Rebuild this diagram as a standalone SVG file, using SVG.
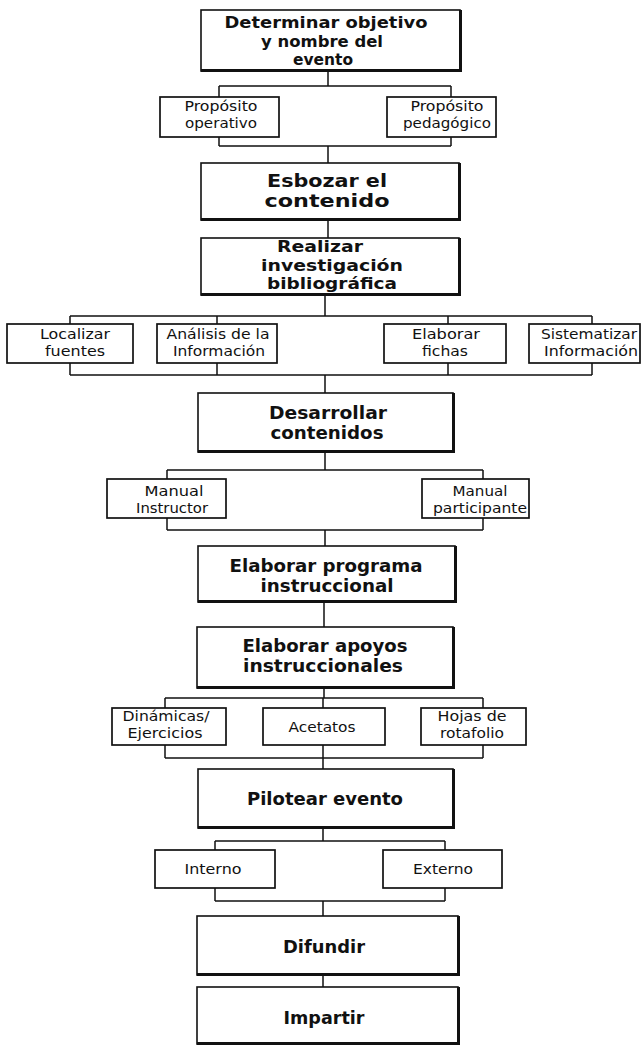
<svg xmlns="http://www.w3.org/2000/svg" width="643" height="1046" viewBox="0 0 643 1046">
  <style>
    .box { fill: #ffffff; stroke: #111111; stroke-width: 1.6; }
    .sub { fill: #ffffff; stroke: #111111; stroke-width: 1.7; }
    .edge { fill: none; stroke: #111111; stroke-width: 3; }
    .link { fill: none; stroke: #111111; stroke-width: 1.5; }
    .hd { font-family: "DejaVu Sans", Verdana, sans-serif; font-weight: bold; font-size: 17px; fill: #111111; text-anchor: middle; }
    .hd3 { font-family: "DejaVu Sans", Verdana, sans-serif; font-weight: bold; font-size: 15.5px; fill: #111111; text-anchor: middle; }
    .lb { font-family: "DejaVu Sans", Verdana, sans-serif; font-size: 14.2px; fill: #111111; text-anchor: middle; }
  </style>
  <rect x="0" y="0" width="643" height="1046" fill="#ffffff"/>

  <!-- connectors -->
  <g id="connectors" class="link">
    <!-- objetivo -> propósitos -> esbozar -->
    <path d="M328 71V86M219 86H451M219 86V97M451 86V97"/>
    <path d="M219 137V146M451 137V146M219 146H451M328 146V163"/>
    <!-- esbozar -> investigación -->
    <path d="M328 220V238"/>
    <!-- investigación -> four tasks -> desarrollar -->
    <path d="M325 295V316M70 316H592M70 316V324M217 316V324M448 316V324M592 316V324"/>
    <path d="M70 363V375M217 363V375M448 363V375M592 363V375M70 375H592M325 375V393"/>
    <!-- desarrollar -> manuales -> programa -->
    <path d="M325 452V470M167 470H483M167 470V479M483 470V479"/>
    <path d="M167 518V530M483 518V530M167 530H483M325 530V546"/>
    <!-- programa -> apoyos -->
    <path d="M324 602V627"/>
    <!-- apoyos -> three aids -> pilotear -->
    <path d="M324 688V698M165 698H483M165 698V708M323 698V708M483 698V708"/>
    <path d="M165 745V758M323 745V758M483 745V758M165 758H483M323 758V769"/>
    <!-- pilotear -> interno/externo -> difundir -->
    <path d="M323 828V841M215 841H445M215 841V850M445 841V850"/>
    <path d="M215 888V901M445 888V901M215 901H445M323 901V916"/>
    <!-- difundir -> impartir -->
    <path d="M323 975V987"/>
  </g>

  <g id="n-objetivo">
    <rect class="box" x="201" y="10" width="259" height="61"/>
    <path class="edge" d="M201 70.5H460.5V10"/>
    <text class="hd3" x="326" y="28" textLength="203" lengthAdjust="spacingAndGlyphs">Determinar objetivo</text>
    <text class="hd3" x="322" y="46.5" textLength="122" lengthAdjust="spacingAndGlyphs">y nombre del</text>
    <text class="hd3" x="323" y="65" textLength="60" lengthAdjust="spacingAndGlyphs">evento</text>
  </g>

  <g id="n-operativo">
    <rect class="sub" x="160" y="97" width="119" height="40"/>
    <text class="lb" x="221" y="111" textLength="73" lengthAdjust="spacingAndGlyphs">Propósito</text>
    <text class="lb" x="221" y="128" textLength="72" lengthAdjust="spacingAndGlyphs">operativo</text>
  </g>
  <g id="n-pedagogico">
    <rect class="sub" x="387" y="97" width="109" height="40"/>
    <text class="lb" x="447" y="111" textLength="73" lengthAdjust="spacingAndGlyphs">Propósito</text>
    <text class="lb" x="447" y="128" textLength="88" lengthAdjust="spacingAndGlyphs">pedagógico</text>
  </g>

  <g id="n-esbozar">
    <rect class="box" x="201" y="163" width="258" height="57"/>
    <path class="edge" d="M201 219.5H459.5V163"/>
    <text class="hd" x="327" y="187" textLength="120" lengthAdjust="spacingAndGlyphs">Esbozar el</text>
    <text class="hd" x="327" y="207" textLength="125" lengthAdjust="spacingAndGlyphs">contenido</text>
  </g>

  <g id="n-investigacion">
    <rect class="box" x="201" y="238" width="258" height="57"/>
    <path class="edge" d="M201 294.5H459.5V238"/>
    <text class="hd3" x="320" y="252" textLength="86" lengthAdjust="spacingAndGlyphs">Realizar</text>
    <text class="hd3" x="332" y="270.5" textLength="142" lengthAdjust="spacingAndGlyphs">investigación</text>
    <text class="hd3" x="332" y="289" textLength="130" lengthAdjust="spacingAndGlyphs">bibliográfica</text>
  </g>

  <g id="n-localizar">
    <rect class="sub" x="7" y="324" width="126" height="39"/>
    <text class="lb" x="75" y="339" textLength="70" lengthAdjust="spacingAndGlyphs">Localizar</text>
    <text class="lb" x="75" y="356" textLength="60" lengthAdjust="spacingAndGlyphs">fuentes</text>
  </g>
  <g id="n-analisis">
    <rect class="sub" x="157" y="324" width="120" height="39"/>
    <text class="lb" x="218" y="339" textLength="103" lengthAdjust="spacingAndGlyphs">Análisis de la</text>
    <text class="lb" x="219" y="356" textLength="92" lengthAdjust="spacingAndGlyphs">Información</text>
  </g>
  <g id="n-fichas">
    <rect class="sub" x="384" y="324" width="122" height="39"/>
    <text class="lb" x="446" y="339" textLength="68" lengthAdjust="spacingAndGlyphs">Elaborar</text>
    <text class="lb" x="445" y="356" textLength="46" lengthAdjust="spacingAndGlyphs">fichas</text>
  </g>
  <g id="n-sistematizar">
    <rect class="sub" x="529" y="324" width="111" height="39"/>
    <text class="lb" x="589" y="339" textLength="96" lengthAdjust="spacingAndGlyphs">Sistematizar</text>
    <text class="lb" x="591" y="356" textLength="94" lengthAdjust="spacingAndGlyphs">Información</text>
  </g>

  <g id="n-desarrollar">
    <rect class="box" x="198" y="393" width="255" height="59"/>
    <path class="edge" d="M198 451.5H453.5V393"/>
    <text class="hd" x="328" y="419" textLength="118" lengthAdjust="spacingAndGlyphs">Desarrollar</text>
    <text class="hd" x="327" y="439" textLength="113" lengthAdjust="spacingAndGlyphs">contenidos</text>
  </g>

  <g id="n-instructor">
    <rect class="sub" x="107" y="479" width="119" height="39"/>
    <text class="lb" x="174" y="496" textLength="59" lengthAdjust="spacingAndGlyphs">Manual</text>
    <text class="lb" x="172" y="513" textLength="72" lengthAdjust="spacingAndGlyphs">Instructor</text>
  </g>
  <g id="n-participante">
    <rect class="sub" x="422" y="479" width="107" height="39"/>
    <text class="lb" x="480" y="496" textLength="55" lengthAdjust="spacingAndGlyphs">Manual</text>
    <text class="lb" x="480" y="513" textLength="94" lengthAdjust="spacingAndGlyphs">participante</text>
  </g>

  <g id="n-programa">
    <rect class="box" x="198" y="546" width="257" height="56"/>
    <path class="edge" d="M198 601.5H455.5V546"/>
    <text class="hd" x="326" y="572" textLength="193" lengthAdjust="spacingAndGlyphs">Elaborar programa</text>
    <text class="hd" x="327" y="592" textLength="133" lengthAdjust="spacingAndGlyphs">instruccional</text>
  </g>

  <g id="n-apoyos">
    <rect class="box" x="197" y="627" width="256" height="61"/>
    <path class="edge" d="M197 687.5H453.5V627"/>
    <text class="hd" x="325" y="652" textLength="165" lengthAdjust="spacingAndGlyphs">Elaborar apoyos</text>
    <text class="hd" x="323" y="672" textLength="160" lengthAdjust="spacingAndGlyphs">instruccionales</text>
  </g>

  <g id="n-dinamicas">
    <rect class="sub" x="112" y="708" width="114" height="37"/>
    <text class="lb" x="166" y="721" textLength="87" lengthAdjust="spacingAndGlyphs">Dinámicas/</text>
    <text class="lb" x="165" y="738" textLength="75" lengthAdjust="spacingAndGlyphs">Ejercicios</text>
  </g>
  <g id="n-acetatos">
    <rect class="sub" x="263" y="708" width="122" height="37"/>
    <text class="lb" x="322" y="732" textLength="67" lengthAdjust="spacingAndGlyphs">Acetatos</text>
  </g>
  <g id="n-rotafolio">
    <rect class="sub" x="421" y="708" width="105" height="37"/>
    <text class="lb" x="472" y="721" textLength="69" lengthAdjust="spacingAndGlyphs">Hojas de</text>
    <text class="lb" x="472" y="738" textLength="64" lengthAdjust="spacingAndGlyphs">rotafolio</text>
  </g>

  <g id="n-pilotear">
    <rect class="box" x="198" y="769" width="255" height="59"/>
    <path class="edge" d="M198 827.5H453.5V769"/>
    <text class="hd" x="325" y="805" textLength="156" lengthAdjust="spacingAndGlyphs">Pilotear evento</text>
  </g>

  <g id="n-interno">
    <rect class="sub" x="155" y="850" width="120" height="38"/>
    <text class="lb" x="213" y="874" textLength="57" lengthAdjust="spacingAndGlyphs">Interno</text>
  </g>
  <g id="n-externo">
    <rect class="sub" x="383" y="850" width="119" height="38"/>
    <text class="lb" x="443" y="874" textLength="60" lengthAdjust="spacingAndGlyphs">Externo</text>
  </g>

  <g id="n-difundir">
    <rect class="box" x="197" y="916" width="261" height="59"/>
    <path class="edge" d="M197 974.5H458.5V916"/>
    <text class="hd" x="324" y="953" textLength="82" lengthAdjust="spacingAndGlyphs">Difundir</text>
  </g>

  <g id="n-impartir">
    <rect class="box" x="197" y="987" width="261" height="57"/>
    <path class="edge" d="M197 1043.5H458.5V987"/>
    <text class="hd" x="324" y="1024" textLength="81" lengthAdjust="spacingAndGlyphs">Impartir</text>
  </g>
</svg>
